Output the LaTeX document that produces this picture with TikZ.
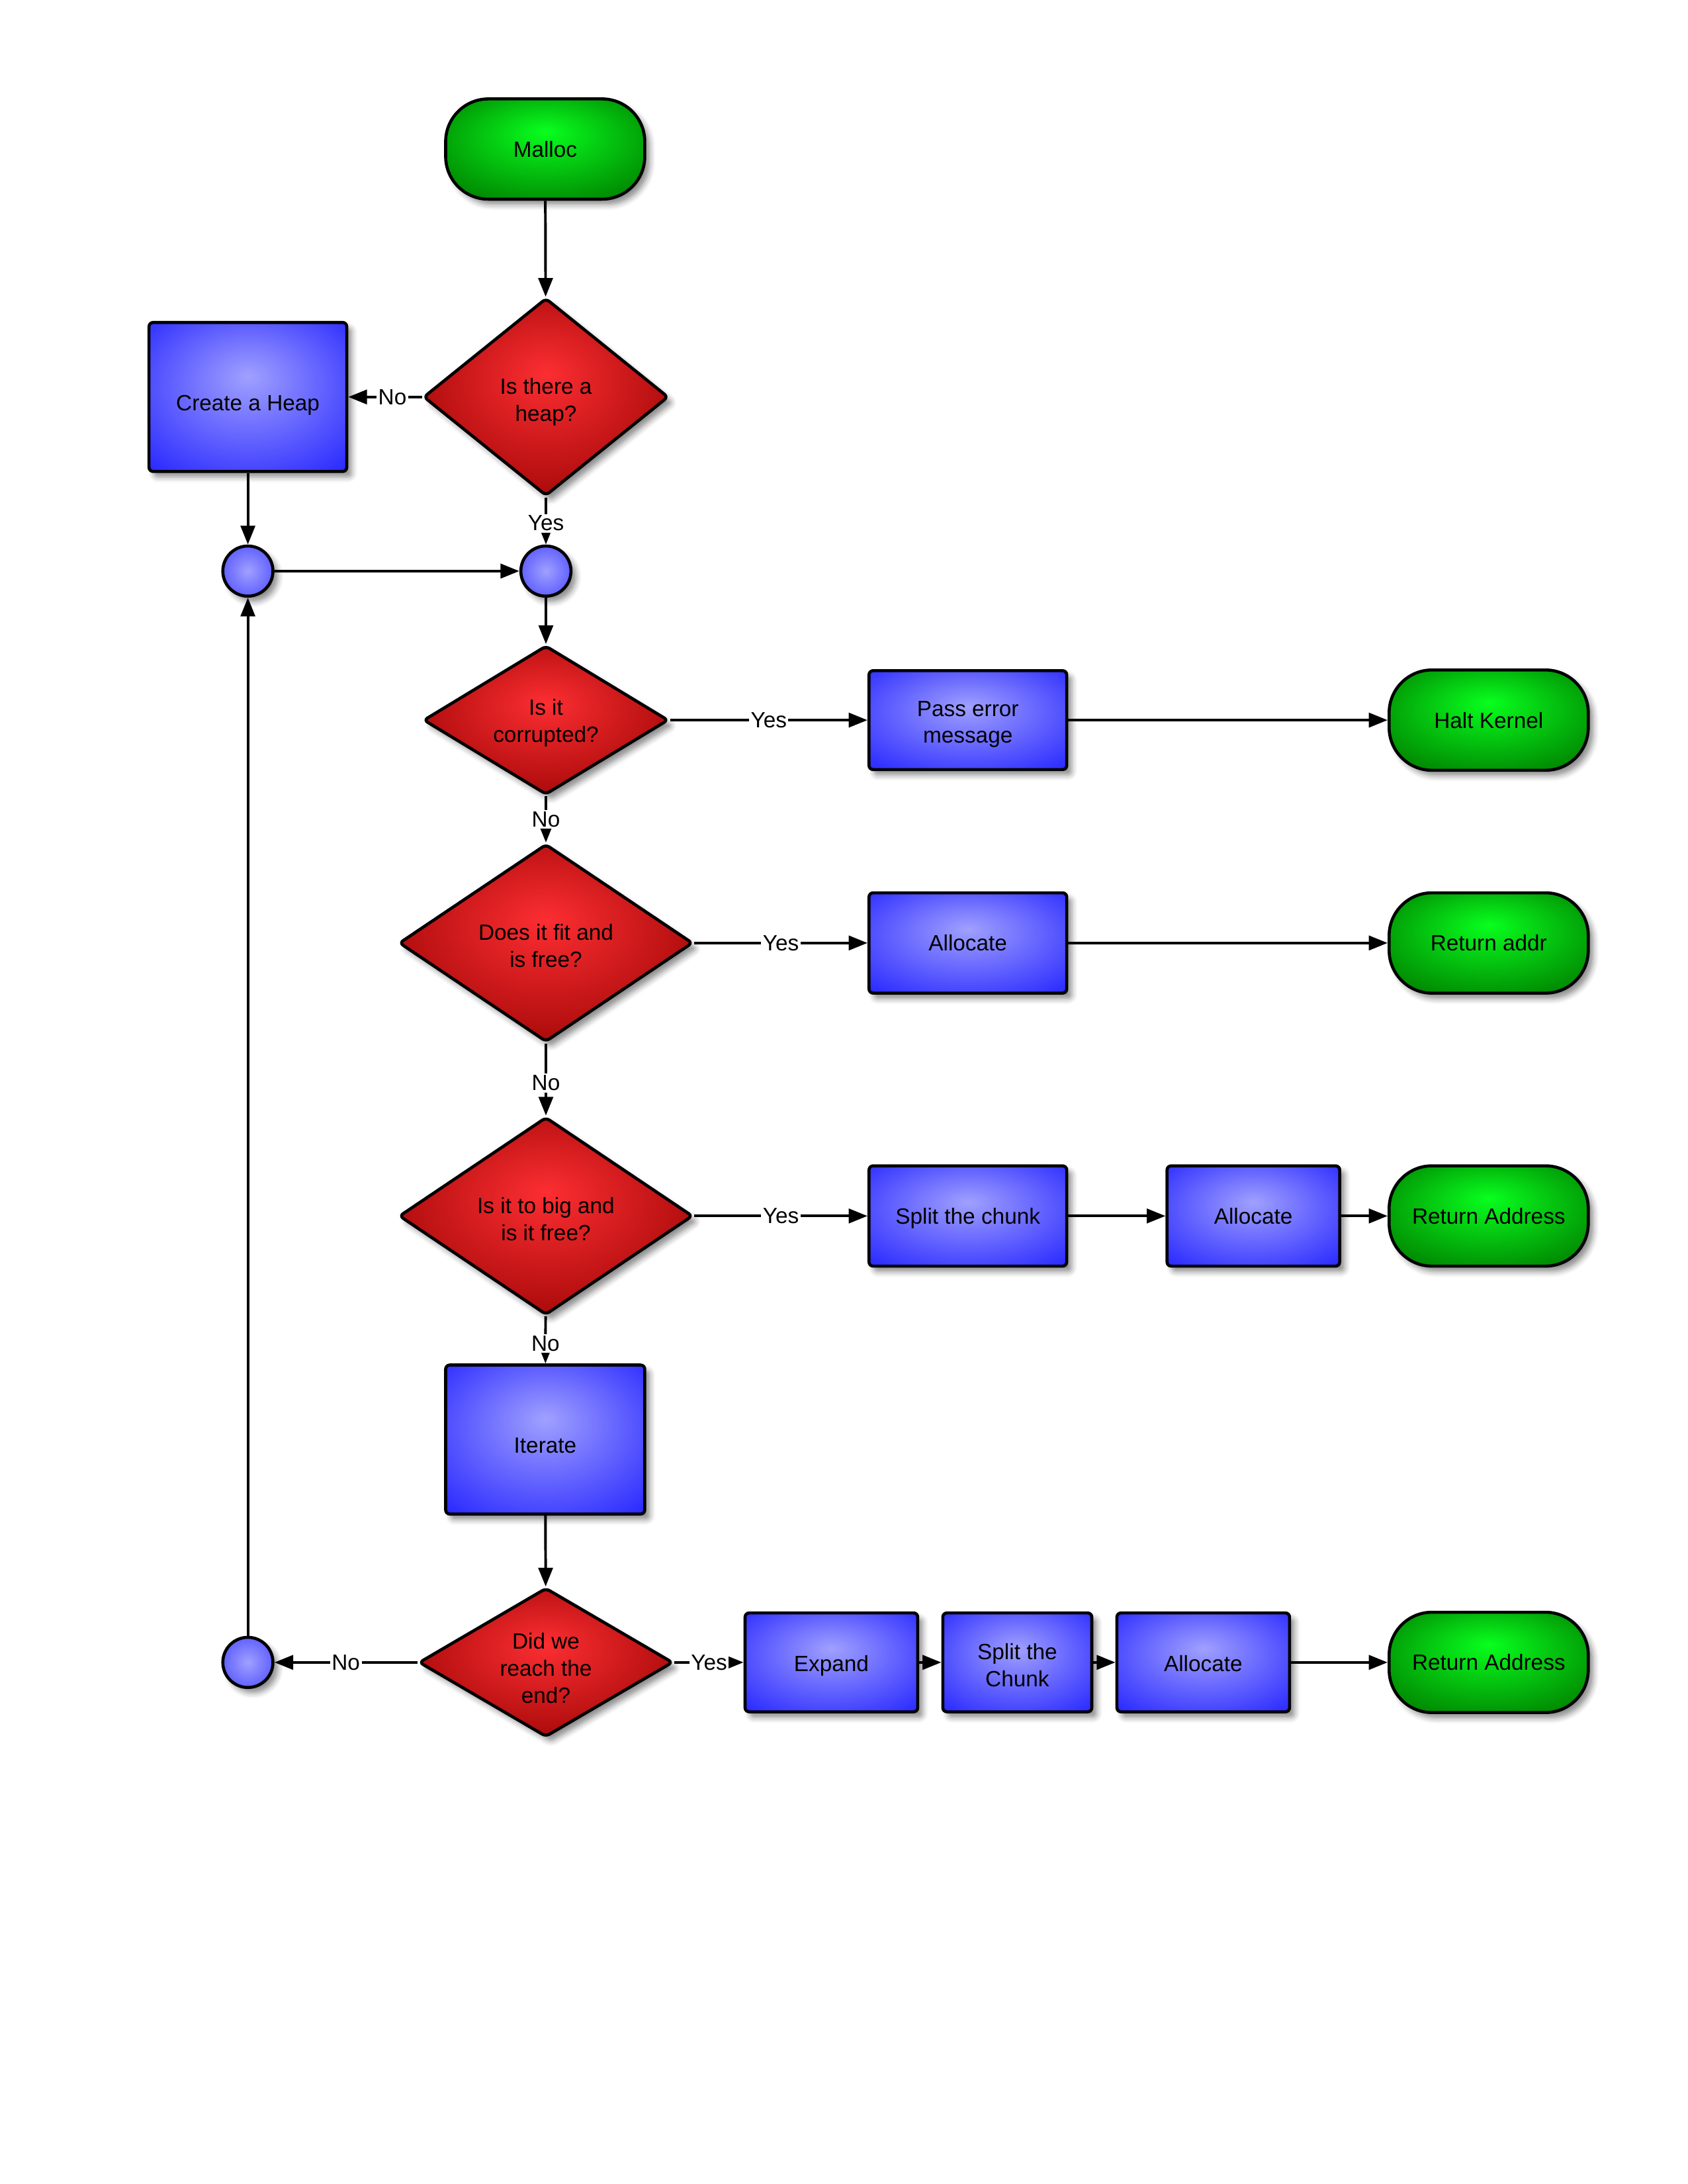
\documentclass[tikz,border=0pt]{standalone}
\usepackage{fontspec}
\setmainfont{Liberation Sans}
\usetikzlibrary{shapes.geometric,arrows.meta,shadows.blur}

% unit of the drawing grid
\newcommand\pxu{0.505pt}
% centred lines of node text, set slightly below the node centre
\newcommand\drop[2][1pt]{\raisebox{-#1}[\height][\depth]{\begin{tabular}{@{}c@{}}#2\end{tabular}}}

\definecolor{blueIn}{RGB}{160,160,255}
\definecolor{blueOut}{RGB}{42,42,255}
\definecolor{redIn}{RGB}{252,46,50}
\definecolor{redOut}{RGB}{165,8,8}
\definecolor{greenIn}{RGB}{8,255,30}
\definecolor{greenOut}{RGB}{0,130,0}
\definecolor{dotIn}{RGB}{160,160,255}
\definecolor{dotOut}{RGB}{85,85,255}

\pgfdeclareradialshading{blueglow}{\pgfpoint{0bp}{7bp}}{color(0bp)=(blueIn); color(36bp)=(blueOut); color(50bp)=(blueOut)}
\pgfdeclareradialshading{redglow}{\pgfpoint{0bp}{6bp}}{color(0bp)=(redIn); color(30bp)=(redOut); color(50bp)=(redOut)}
\pgfdeclareradialshading{greenglow}{\pgfpoint{0bp}{9bp}}{color(0bp)=(greenIn); color(34bp)=(greenOut); color(50bp)=(greenOut)}
\pgfdeclareradialshading{dotglow}{\pgfpoint{0bp}{0bp}}{color(0bp)=(dotIn); color(30bp)=(dotOut); color(50bp)=(dotOut)}

\tikzset{
  base/.style={draw=black, line width=1.1pt, font=\fontsize{8}{9.8}\selectfont,
    align=center, inner sep=0pt,
    blur shadow={shadow xshift=1.8pt, shadow yshift=-2pt, shadow blur radius=2pt, shadow opacity=45}},
  term/.style={base, rectangle, rounded corners=15.5pt, shading=greenglow,
    minimum width=143*\pxu, minimum height=72*\pxu},
  proc/.style={base, rectangle, rounded corners=1.5pt, shading=blueglow},
  decision/.style={base, diamond, shape aspect=2, rounded corners=1.5pt, shading=redglow},
  joint/.style={base, circle, shading=dotglow, minimum size=36*\pxu},
  flow/.style={line width=0.95pt, -{Triangle[length=6.8pt,width=5.2pt]}},
  tag/.style={fill=white, inner sep=0.6pt, font=\fontsize{8}{9.8}\selectfont, pos=0.5}
}

\begin{document}
\begin{tikzpicture}[x=\pxu, y=-\pxu]
\useasboundingbox (0,0) rectangle (1212,1568);

% main column
\node[term] (malloc) at (391.5,107) {\drop[0.9pt]{Malloc}};
\node[decision, minimum width=176*\pxu, minimum height=142*\pxu] (heap) at (392,285) {\drop[2pt]{Is there a\\heap?}};
\node[proc, minimum width=142*\pxu, minimum height=107*\pxu] (create) at (178,285) {\drop[3.1pt]{Create a Heap}};
\node[joint] (jl) at (178,410) {};
\node[joint] (jr) at (392,410) {};
\node[decision, minimum width=176*\pxu, minimum height=107*\pxu] (corrupt) at (392,517) {\drop[1.2pt]{Is it\\corrupted?}};
\node[decision, minimum width=211*\pxu, minimum height=142*\pxu] (fit) at (392,677) {\drop[2pt]{Does it fit and\\is free?}};
\node[decision, minimum width=211*\pxu, minimum height=142*\pxu] (big) at (392,873) {\drop[2pt]{Is it to big and\\is it free?}};
\node[proc, minimum width=143*\pxu, minimum height=107*\pxu] (iter) at (391.5,1033.5) {\drop[3pt]{Iterate}};
\node[decision, minimum width=176*\pxu, minimum height=107*\pxu] (endq) at (392,1193.5) {\drop[3pt]{Did we\\reach the\\end?}};
\node[joint] (jb) at (178,1193.5) {};

% right-hand branches
\node[proc, minimum width=142*\pxu, minimum height=71*\pxu] (pass) at (695,517) {\drop[1.5pt]{Pass error\\message}};
\node[term] (halt) at (1069,517) {\drop[0.9pt]{Halt Kernel}};
\node[proc, minimum width=142*\pxu, minimum height=72*\pxu] (alloc1) at (695,677) {\drop[0.9pt]{Allocate}};
\node[term] (ret1) at (1069,677) {\drop[0.9pt]{Return addr}};
\node[proc, minimum width=142*\pxu, minimum height=72*\pxu] (split1) at (695,873) {\drop{Split the chunk}};
\node[proc, minimum width=124*\pxu, minimum height=72*\pxu] (alloc2) at (900,873) {\drop[0.9pt]{Allocate}};
\node[term] (ret2) at (1069,873) {\drop[0.9pt]{Return Address}};
\node[proc, minimum width=124*\pxu, minimum height=71*\pxu] (expand) at (597,1193.5) {\drop[1.4pt]{Expand}};
\node[proc, minimum width=107*\pxu, minimum height=71*\pxu] (split2) at (730.5,1193.5) {\drop[2pt]{Split the\\Chunk}};
\node[proc, minimum width=124*\pxu, minimum height=71*\pxu] (alloc3) at (864,1193.5) {\drop[1.4pt]{Allocate}};
\node[term] (ret3) at (1069,1193.5) {\drop[0.9pt]{Return Address}};

% connectors
\draw[flow] (malloc) -- (heap);
\draw[flow] (heap) -- node[tag, pos=0.4]{No} (create);
\draw[flow] (heap) -- node[tag, pos=0.55]{Yes} (jr);
\draw[flow] (create) -- (jl);
\draw[flow] (jl) -- (jr);
\draw[flow] (jr) -- (corrupt);
\draw[flow] (corrupt) -- node[tag]{Yes} (pass);
\draw[flow] (pass) -- (halt);
\draw[flow] (corrupt) -- node[tag]{No} (fit);
\draw[flow] (fit) -- node[tag]{Yes} (alloc1);
\draw[flow] (alloc1) -- (ret1);
\draw[flow] (fit) -- node[tag, pos=0.55]{No} (big);
\draw[flow] (big) -- node[tag]{Yes} (split1);
\draw[flow] (split1) -- (alloc2);
\draw[flow] (alloc2) -- (ret2);
\draw[flow] (big) -- node[tag, pos=0.58]{No} (iter);
\draw[flow] (iter) -- (endq);
\draw[flow] (endq) -- node[tag]{No} (jb);
\draw[flow] (endq) -- node[tag]{Yes} (expand);
\draw[flow] (expand) -- (split2);
\draw[flow] (split2) -- (alloc3);
\draw[flow] (alloc3) -- (ret3);
\draw[flow] (jb) -- (jl);
\end{tikzpicture}
\end{document}
